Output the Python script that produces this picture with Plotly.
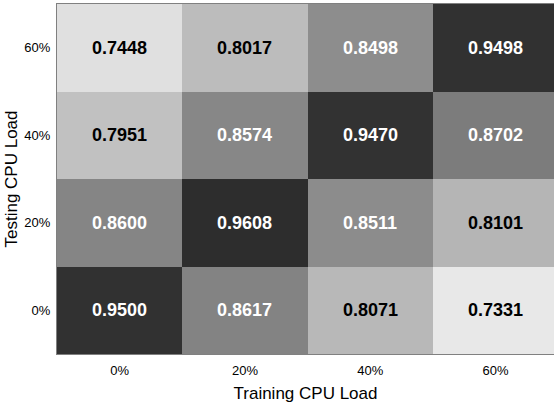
import plotly.graph_objects as go

train_labels = ["0%", "20%", "40%", "60%"]
test_labels = ["0%", "20%", "40%", "60%"]

# accuracy[test_row][train_col], rows from 0% (bottom) to 60% (top)
accuracy = [
    [0.9500, 0.8617, 0.8071, 0.7331],
    [0.8600, 0.9608, 0.8511, 0.8101],
    [0.7951, 0.8574, 0.9470, 0.8702],
    [0.7448, 0.8017, 0.8498, 0.9498],
]

zmin, zmax = 0.7331, 0.9608


def gray(v):
    return f"rgb({v},{v},{v})"


def frac(v):
    return (v - zmin) / (zmax - zmin)


colorscale = [
    [0.0, gray(232)],
    [frac(0.7448), gray(224)],
    [frac(0.8000), gray(190)],
    [frac(0.8100), gray(181)],
    [frac(0.8500), gray(141)],
    [frac(0.8700), gray(124)],
    [frac(0.9470), gray(50)],
    [1.0, gray(45)],
]

FONT = "Liberation Sans, Arial, sans-serif"

fig = go.Figure(
    go.Heatmap(
        z=accuracy,
        x=list(range(len(train_labels))),
        y=list(range(len(test_labels))),
        zmin=zmin,
        zmax=zmax,
        colorscale=colorscale,
        showscale=False,
        hoverinfo="skip",
    )
)

for r, row in enumerate(accuracy):
    for c, v in enumerate(row):
        fig.add_annotation(
            x=c, y=r, text=f"<b>{v:.4f}</b>", showarrow=False,
            font=dict(family=FONT, size=18,
                      color="white" if v > 0.83 else "black"),
        )

fig.update_layout(
    width=554,
    height=406,
    margin=dict(l=57, r=0, t=4, b=52),
    paper_bgcolor="white",
    plot_bgcolor="white",
    font=dict(family=FONT, color="black"),
    xaxis=dict(
        tickmode="array",
        tickvals=list(range(len(train_labels))),
        ticktext=train_labels,
        range=[-0.5, 3.466],
        showgrid=False,
        zeroline=False,
        ticks="outside",
        ticklen=4,
        tickcolor="rgba(0,0,0,0)",
        tickfont=dict(size=13),
        title=dict(text="Training CPU Load", font=dict(size=17), standoff=10),
        showline=True,
        linecolor="#808080",
        linewidth=1,
        mirror=True,
    ),
    yaxis=dict(
        tickmode="array",
        tickvals=list(range(len(test_labels))),
        ticktext=test_labels,
        range=[-0.5, 3.5],
        showgrid=False,
        zeroline=False,
        ticks="outside",
        ticklen=3,
        tickcolor="rgba(0,0,0,0)",
        tickfont=dict(size=13),
        title=dict(text="Testing CPU Load", font=dict(size=17), standoff=2),
        showline=True,
        linecolor="#808080",
        linewidth=1,
        mirror=False,
    ),
)

fig.write_html("out.html")
